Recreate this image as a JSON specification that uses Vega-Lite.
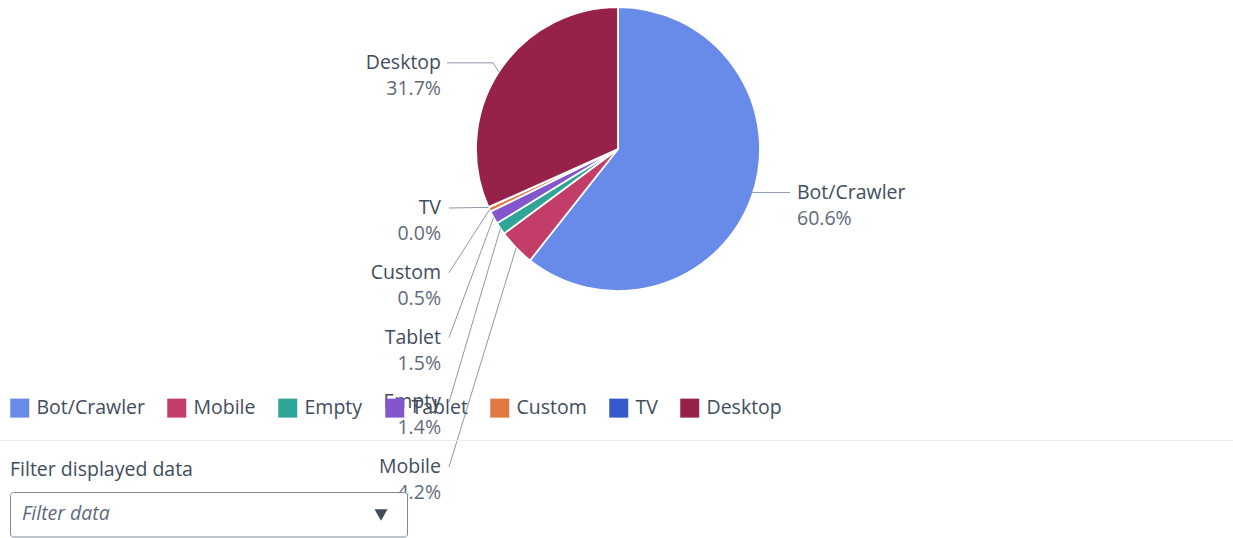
{
  "$schema": "https://vega.github.io/schema/vega-lite/v6.json",
  "width": 1233,
  "height": 538,
  "autosize": {"type": "none"},
  "padding": 0,
  "background": "white",
  "config": {"view": {"stroke": null}, "font": "Open Sans"},
  "datasets": {
    "slices": [
      {"category": "Bot/Crawler", "value": 60.6, "ord": 1},
      {"category": "Mobile", "value": 4.2, "ord": 2},
      {"category": "Empty", "value": 1.4, "ord": 3},
      {"category": "Tablet", "value": 1.5, "ord": 4},
      {"category": "Custom", "value": 0.5, "ord": 5},
      {"category": "TV", "value": 0.04, "ord": 6},
      {"category": "Desktop", "value": 31.7, "ord": 7}
    ]
  },
  "data": {"name": "slices"},
  "layer": [
    {
      "mark": {"type": "arc", "outerRadius": 142, "stroke": "white", "strokeWidth": 1.8},
      "encoding": {
        "x": {"value": 618},
        "y": {"value": 149},
        "theta": {"field": "value", "type": "quantitative", "stack": true},
        "order": {"field": "ord", "type": "quantitative", "sort": "ascending"},
        "color": {
          "field": "category",
          "type": "nominal",
          "scale": {
            "domain": ["Bot/Crawler", "Mobile", "Empty", "Tablet", "Custom", "TV", "Desktop"],
            "range": ["#688ae8", "#c33d69", "#2ea597", "#8456ce", "#e07941", "#3759ce", "#962249"]
          },
          "legend": {
            "orient": "none",
            "legendX": 10,
            "legendY": 398,
            "direction": "horizontal",
            "title": null,
            "symbolType": "square",
            "symbolSize": 361,
            "symbolStrokeWidth": 0,
            "symbolOpacity": 1,
            "labelFontSize": 19.5,
            "labelFont": "Open Sans",
            "labelColor": "#414d5c",
            "labelOffset": 7,
            "columnPadding": 22
          }
        }
      }
    },
    {
      "transform": [
        {"stack": "value", "groupby": [], "sort": [{"field": "ord", "order": "ascending"}], "as": ["v0", "v1"]},
        {"joinaggregate": [{"op": "sum", "field": "value", "as": "total"}]},
        {"calculate": "PI*(datum.v0+datum.v1)/datum.total", "as": "mid"},
        {"calculate": "618+142*sin(datum.mid)", "as": "ex"},
        {"calculate": "149-142*cos(datum.mid)", "as": "ey"},
        {"calculate": "format(datum.value/datum.total, '.1%')", "as": "pct"}
      ],
      "layer": [
        {
          "transform": [
            {"filter": "datum.value >= 10 && sin(datum.mid) > 0"},
            {"calculate": "datum.ey - 3", "as": "ly"}
          ],
          "layer": [
            {
              "mark": {"type": "rule", "color": "#8d99a8", "strokeWidth": 1},
              "encoding": {
                "x": {"field": "ex", "type": "quantitative", "scale": null},
                "x2": {"value": 790},
                "y": {"field": "ly", "type": "quantitative", "scale": null}
              }
            },
            {
              "mark": {"type": "text", "align": "left", "baseline": "middle", "fontSize": 19.5, "color": "#414d5c"},
              "encoding": {
                "x": {"value": 797},
                "y": {"field": "ly", "type": "quantitative", "scale": null},
                "text": {"field": "category"}
              }
            },
            {
              "mark": {"type": "text", "align": "left", "baseline": "middle", "fontSize": 19.5, "color": "#5f6b7a", "dy": 26},
              "encoding": {
                "x": {"value": 797},
                "y": {"field": "ly", "type": "quantitative", "scale": null},
                "text": {"field": "pct"}
              }
            }
          ]
        },
        {
          "transform": [
            {"filter": "datum.value >= 10 && sin(datum.mid) < 0"},
            {"calculate": "datum.ey - 9", "as": "ly"}
          ],
          "layer": [
            {
              "mark": {"type": "rule", "color": "#8d99a8", "strokeWidth": 1},
              "encoding": {
                "x": {"value": 447},
                "x2": {"value": 493},
                "y": {"field": "ly", "type": "quantitative", "scale": null}
              }
            },
            {
              "mark": {"type": "rule", "color": "#8d99a8", "strokeWidth": 1},
              "encoding": {
                "x": {"value": 493},
                "x2": {"field": "ex", "type": "quantitative", "scale": null},
                "y": {"field": "ly", "type": "quantitative", "scale": null},
                "y2": {"field": "ey", "type": "quantitative", "scale": null}
              }
            },
            {
              "mark": {"type": "text", "align": "right", "baseline": "middle", "fontSize": 19.5, "color": "#414d5c"},
              "encoding": {
                "x": {"value": 441},
                "y": {"field": "ly", "type": "quantitative", "scale": null},
                "text": {"field": "category"}
              }
            },
            {
              "mark": {"type": "text", "align": "right", "baseline": "middle", "fontSize": 19.5, "color": "#5f6b7a", "dy": 26},
              "encoding": {
                "x": {"value": 441},
                "y": {"field": "ly", "type": "quantitative", "scale": null},
                "text": {"field": "pct"}
              }
            }
          ]
        },
        {
          "transform": [
            {"filter": "datum.value < 10"},
            {"window": [{"op": "row_number", "as": "rk"}], "sort": [{"field": "ord", "order": "descending"}]},
            {"calculate": "208 + 64.75*(datum.rk-1)", "as": "ly"}
          ],
          "layer": [
            {
              "mark": {"type": "rule", "color": "#8d99a8", "strokeWidth": 1},
              "encoding": {
                "x": {"value": 449},
                "x2": {"field": "ex", "type": "quantitative", "scale": null},
                "y": {"field": "ly", "type": "quantitative", "scale": null},
                "y2": {"field": "ey", "type": "quantitative", "scale": null}
              }
            },
            {
              "mark": {"type": "text", "align": "right", "baseline": "middle", "fontSize": 19.5, "color": "#414d5c"},
              "encoding": {
                "x": {"value": 441},
                "y": {"field": "ly", "type": "quantitative", "scale": null},
                "text": {"field": "category"}
              }
            },
            {
              "mark": {"type": "text", "align": "right", "baseline": "middle", "fontSize": 19.5, "color": "#5f6b7a", "dy": 26},
              "encoding": {
                "x": {"value": 441},
                "y": {"field": "ly", "type": "quantitative", "scale": null},
                "text": {"field": "pct"}
              }
            }
          ]
        }
      ]
    },
    {
      "data": {"values": [{}]},
      "mark": {"type": "rule", "color": "#e9ebed", "strokeWidth": 1},
      "encoding": {"x": {"value": 0}, "x2": {"value": 1233}, "y": {"value": 440.5}}
    },
    {
      "data": {"values": [{}]},
      "mark": {"type": "text", "text": "Filter displayed data", "align": "left", "baseline": "alphabetic", "fontSize": 19.5, "color": "#414d5c"},
      "encoding": {"x": {"value": 10}, "y": {"value": 476}}
    },
    {
      "data": {"values": [{}]},
      "mark": {"type": "rect", "fill": "white", "stroke": "#7d8998", "strokeWidth": 1, "cornerRadius": 3},
      "encoding": {"x": {"value": 10.5}, "x2": {"value": 407.5}, "y": {"value": 492.5}, "y2": {"value": 537}}
    },
    {
      "data": {"values": [{}]},
      "mark": {"type": "text", "text": "Filter data", "align": "left", "baseline": "middle", "fontSize": 19.5, "fontStyle": "italic", "color": "#5f6b7a"},
      "encoding": {"x": {"value": 22}, "y": {"value": 514}}
    },
    {
      "data": {"values": [{}]},
      "mark": {"type": "point", "shape": "triangle-down", "filled": true, "size": 170, "color": "#414d5c", "opacity": 1},
      "encoding": {"x": {"value": 381}, "y": {"value": 515}}
    }
  ]
}
